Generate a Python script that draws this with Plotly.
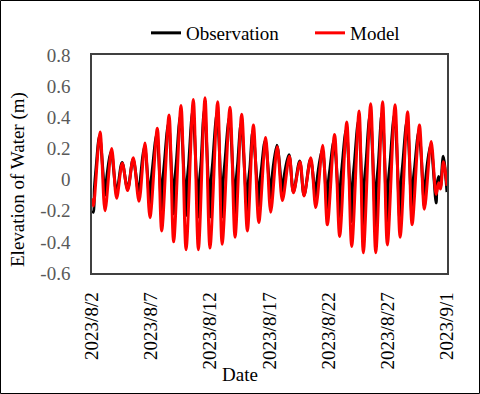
import pandas as pd
import plotly.graph_objects as go

# ---- data (day offsets from 2023-08-02 00:00, elevation in m) ----
model_days = [0.00, 0.12, 0.68, 1.10, 1.66, 2.08, 2.56, 3.01, 3.49, 3.97, 4.48, 4.90,
              5.52, 5.89, 6.51, 6.90, 7.52, 7.95, 8.56, 8.99, 9.55, 9.97, 10.62, 11.00,
              11.66, 12.09, 12.65, 13.13, 13.64, 14.10, 14.68, 15.10, 15.66, 16.09,
              16.68, 17.02, 17.58, 17.92, 18.49, 18.91, 19.50, 19.89, 20.50, 20.93,
              21.53, 21.95, 22.57, 22.93, 23.55, 23.98, 24.56, 24.96, 25.61, 26.04,
              26.67, 27.05, 27.67, 28.09, 28.66, 29.08, 29.30, 29.45, 29.70, 30.00]
model_vals = [-0.12, -0.17, 0.305, -0.20, 0.20, -0.12, 0.105, -0.07, 0.14, -0.14, 0.235, -0.245,
              0.33, -0.33, 0.415, -0.40, 0.475, -0.45, 0.515, -0.45, 0.525, -0.44, 0.50, -0.415,
              0.465, -0.37, 0.42, -0.33, 0.35, -0.275, 0.27, -0.21, 0.21, -0.135,
              0.15, -0.085, 0.115, -0.105, 0.14, -0.18, 0.22, -0.29, 0.29, -0.365,
              0.37, -0.43, 0.44, -0.47, 0.487, -0.47, 0.50, -0.42, 0.48, -0.37,
              0.435, -0.29, 0.35, -0.19, 0.245, -0.095, -0.02, -0.06, 0.115, -0.04]

obs_days = [0.00, 0.12, 0.20, 0.35, 0.64, 1.10, 1.18, 1.62, 2.08, 2.54, 3.01, 3.47,
            3.97, 4.05, 4.44, 4.90, 4.97, 5.12, 5.47, 5.89, 5.96, 6.11, 6.46, 6.90,
            6.97, 7.12, 7.47, 7.95, 8.02, 8.17, 8.51, 8.99, 9.06, 9.21, 9.50, 9.97,
            10.04, 10.19, 10.57, 11.00, 11.07, 11.22, 11.61, 12.09, 12.16, 12.31, 12.60,
            13.13, 13.20, 13.35, 13.59, 14.10, 14.17, 14.32, 14.63, 15.10, 15.17, 15.63,
            16.09, 16.16, 16.65, 17.02, 17.55, 17.92, 18.46, 18.91, 18.98, 19.46, 19.89,
            19.96, 20.11, 20.45, 20.93, 21.00, 21.15, 21.48, 21.95, 22.02, 22.17, 22.52,
            22.93, 23.00, 23.15, 23.50, 23.98, 24.05, 24.20, 24.51, 24.96, 25.03, 25.18,
            25.56, 26.04, 26.11, 26.26, 26.62, 27.05, 27.12, 27.27, 27.62, 28.09, 28.16,
            28.62, 29.08, 29.16, 29.30, 29.45, 29.68, 30.00]
obs_vals = [-0.20, -0.21, -0.06, 0.08, 0.28, -0.10, -0.03, 0.18, -0.08, 0.11, -0.06, 0.13,
            -0.11, -0.03, 0.21, -0.16, -0.03, 0.08, 0.29, -0.20, -0.03, 0.10, 0.36, -0.22,
            -0.03, 0.10, 0.41, -0.23, -0.03, 0.10, 0.44, -0.24, -0.03, 0.10, 0.45, -0.24,
            -0.03, 0.10, 0.43, -0.24, -0.03, 0.10, 0.40, -0.23, -0.03, 0.10, 0.36,
            -0.22, -0.03, 0.08, 0.31, -0.17, -0.03, 0.07, 0.25, -0.12, -0.02, 0.22,
            -0.10, -0.02, 0.16, -0.08, 0.12, -0.10, 0.13, -0.13, -0.03, 0.19, -0.19,
            -0.03, 0.07, 0.25, -0.24, -0.03, 0.10, 0.32, -0.27, -0.03, 0.10, 0.38,
            -0.29, -0.03, 0.10, 0.42, -0.30, -0.03, 0.10, 0.43, -0.30, -0.03, 0.10,
            0.42, -0.30, -0.03, 0.10, 0.38, -0.26, -0.03, 0.08, 0.31, -0.17, -0.03,
            0.22, -0.15, -0.03, 0.02, -0.05, 0.15, -0.08]

tick_dates = ["2023-08-02", "2023-08-07", "2023-08-12", "2023-08-17",
              "2023-08-22", "2023-08-27", "2023-09-01"]
tick_labels = ["2023/8/2", "2023/8/7", "2023/8/12", "2023/8/17",
               "2023/8/22", "2023/8/27", "2023/9/1"]
y_ticks = [-0.6, -0.4, -0.2, 0, 0.2, 0.4, 0.6, 0.8]

base = pd.Timestamp("2023-08-02")
model_t = [base + pd.Timedelta(days=d) for d in model_days]
obs_t = [base + pd.Timedelta(days=d) for d in obs_days]

W, H = 480, 394
L, R, T, B = 92, 33, 55, 121
pw, ph = W - L - R, H - T - B
FONT = "Liberation Serif"

fig = go.Figure()
fig.add_trace(go.Scatter(x=obs_t, y=obs_vals, mode="lines", name="Observation",
                         legend="legend",
                         line=dict(color="#000000", width=3, shape="spline", smoothing=0.9)))
fig.add_trace(go.Scatter(x=model_t, y=model_vals, mode="lines", name="Model",
                         legend="legend2",
                         line=dict(color="#FF0000", width=3, shape="spline", smoothing=0.9)))

leg_common = dict(orientation="h", yanchor="middle", y=(T + ph - 33) / ph, xanchor="left",
                  font=dict(family=FONT, size=19, color="black"), bgcolor="rgba(0,0,0,0)")

fig.update_layout(
    width=W, height=H,
    margin=dict(l=L, r=R, t=T, b=B, autoexpand=False),
    paper_bgcolor="white", plot_bgcolor="white",
    font=dict(family=FONT, size=19, color="black"),
    showlegend=True,
    legend=dict(x=(146 - L) / pw, **leg_common),
    legend2=dict(x=(310 - L) / pw, **leg_common),
    xaxis=dict(type="date", range=[tick_dates[0], tick_dates[-1]],
               tickvals=tick_dates, ticktext=tick_labels, tickangle=-90,
               showgrid=False, zeroline=False, showline=True, mirror=True,
               linecolor="#404040", linewidth=1.5, ticks="",
               ticklabelstandoff=10, tickfont=dict(family=FONT, size=19, color="black")),
    yaxis=dict(range=[-0.6, 0.8], tickvals=y_ticks,
               ticktext=[f"{v:g}" for v in y_ticks],
               showgrid=False, zeroline=False, showline=True, mirror=True,
               linecolor="#404040", linewidth=1.5, ticks="",
               ticklabelstandoff=16, tickfont=dict(family=FONT, size=19, color="#595959")),
    annotations=[
        dict(text="Date", x=(240 - L) / pw, y=(T + ph - 374) / ph, xref="paper", yref="paper",
             showarrow=False, xanchor="center", yanchor="middle",
             font=dict(family=FONT, size=19, color="black")),
        dict(text="Elevation of Water (m)", x=(18 - L) / pw, y=(T + ph - 180) / ph,
             xref="paper", yref="paper", showarrow=False, textangle=-90,
             xanchor="center", yanchor="middle", font=dict(family=FONT, size=19, color="black")),
    ],
    shapes=[dict(type="rect", xref="paper", yref="paper",
                 x0=(0.5 - L) / pw, x1=(W - 0.5 - L) / pw,
                 y0=(T + ph - (H - 0.5)) / ph, y1=(T + ph - 0.5) / ph,
                 line=dict(color="#000000", width=1), fillcolor="rgba(0,0,0,0)")],
)

fig.write_html("out.html", config={"displayModeBar": False},
               post_script="document.body.style.margin='0';")
